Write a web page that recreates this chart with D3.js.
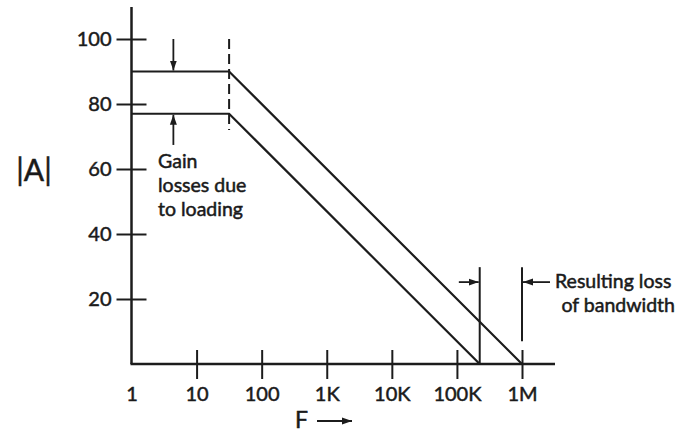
<!DOCTYPE html>
<html>
<head>
<meta charset="utf-8">
<script src="https://cdn.jsdelivr.net/npm/d3@7"></script>
<style>
  html, body { margin: 0; padding: 0; background: #fff; }
  svg text { font-family: "Lato", "DejaVu Sans", sans-serif; fill: #1a1a1a; stroke: #1a1a1a; stroke-width: 0.5px; }
</style>
</head>
<body>
<svg id="chart" width="678" height="434"></svg>
<script>
// ---- data ----
const xTickValues = [1, 10, 100, 1e3, 1e4, 1e5, 1e6];
const xTickLabels = ["1", "10", "100", "1K", "10K", "100K", "1M"];
const yTickValues = [20, 40, 60, 80, 100];
const upperFreq = [1, 31.6, 1e6];
const upperGain = [90, 90, 0];
const lowerFreq = [1, 31.6, 2.24e5];
const lowerGain = [77, 77, 0];
const cornerFreq = 31.6;
const lossFreqs = [2.24e5, 1e6];

const svg = d3.select("#chart");
const ink = "#1c1c1c";

const x = d3.scaleLog().domain([1, 1e6]).range([131.5, 522]);
const y = d3.scaleLinear().domain([0, 100]).range([364, 39]);

// marker
const defs = svg.append("defs");
defs.append("marker").attr("id", "ah")
  .attr("viewBox", "0 0 10 10").attr("refX", 10).attr("refY", 5)
  .attr("markerWidth", 10).attr("markerHeight", 10)
  .attr("markerUnits", "userSpaceOnUse").attr("orient", "auto")
  .append("path").attr("d", "M0,1.5 L10,5 L0,8.5 Z").attr("fill", ink);

// Y axis
const yAxis = svg.append("g").attr("transform", `translate(${x(1)},0)`)
  .call(d3.axisLeft(y).tickValues(yTickValues).tickSize(15).tickPadding(5));
yAxis.select(".domain").remove();
yAxis.selectAll(".tick line").attr("x1", -15).attr("x2", 15)
  .attr("stroke", ink).attr("stroke-width", 2);
yAxis.selectAll(".tick text").attr("font-size", 20).attr("fill", ink)
  .attr("font-family", "Lato, DejaVu Sans, sans-serif");
svg.append("line").attr("x1", x(1)).attr("x2", x(1))
  .attr("y1", 7).attr("y2", y(0)).attr("stroke", ink).attr("stroke-width", 2.5);

// X axis
const xAxis = svg.append("g").attr("transform", `translate(0,${y(0)})`)
  .call(d3.axisBottom(x).tickValues(xTickValues).tickSize(15).tickPadding(8)
    .tickFormat((d, i) => xTickLabels[i]));
xAxis.select(".domain").remove();
xAxis.selectAll(".tick line").attr("y1", d => d === 1 ? 0 : -14).attr("y2", d => d === 1 ? 0 : 15)
  .attr("stroke", ink).attr("stroke-width", 2);
xAxis.selectAll(".tick text").attr("font-size", 20).attr("fill", ink)
  .attr("font-family", "Lato, DejaVu Sans, sans-serif");
svg.append("line").attr("x1", x(1) - 1).attr("x2", 555)
  .attr("y1", y(0)).attr("y2", y(0)).attr("stroke", ink).attr("stroke-width", 2.5);

// gain curves
const line = d3.line().x(d => x(d[0])).y(d => y(d[1]));
const curves = [d3.zip(upperFreq, upperGain), d3.zip(lowerFreq, lowerGain)];
svg.selectAll("path.curve").data(curves).join("path").attr("class", "curve")
  .attr("d", line).attr("fill", "none").attr("stroke", ink).attr("stroke-width", 2.2);

// dashed corner marker
svg.append("line").attr("x1", x(cornerFreq)).attr("x2", x(cornerFreq))
  .attr("y1", y(100)).attr("y2", y(72))
  .attr("stroke", ink).attr("stroke-width", 2).attr("stroke-dasharray", "10,5");

// gain-loss arrows
svg.append("line").attr("x1", x(4.4)).attr("x2", x(4.4))
  .attr("y1", y(100)).attr("y2", y(90) - 1)
  .attr("stroke", ink).attr("stroke-width", 1.8).attr("marker-end", "url(#ah)");
svg.append("line").attr("x1", x(4.4)).attr("x2", x(4.4))
  .attr("y1", y(67.4)).attr("y2", y(77) + 1)
  .attr("stroke", ink).attr("stroke-width", 1.8).attr("marker-end", "url(#ah)");

// bandwidth markers
svg.append("line").attr("x1", x(lossFreqs[0])).attr("x2", x(lossFreqs[0]))
  .attr("y1", y(29.8)).attr("y2", y(0))
  .attr("stroke", ink).attr("stroke-width", 2);
svg.append("line").attr("x1", x(lossFreqs[1])).attr("x2", x(lossFreqs[1]))
  .attr("y1", y(29.8)).attr("y2", y(7))
  .attr("stroke", ink).attr("stroke-width", 2);
svg.append("line").attr("x1", x(1.07e5)).attr("x2", x(lossFreqs[0]) - 1)
  .attr("y1", y(25.2)).attr("y2", y(25.2))
  .attr("stroke", ink).attr("stroke-width", 1.8).attr("marker-end", "url(#ah)");
svg.append("line").attr("x1", x(Math.pow(10, 6.43))).attr("x2", x(lossFreqs[1]) + 1)
  .attr("y1", y(25.2)).attr("y2", y(25.2))
  .attr("stroke", ink).attr("stroke-width", 1.8).attr("marker-end", "url(#ah)");

// annotations
const ann = svg.append("g").attr("font-size", 19.5);
["Gain", "losses due", "to loading"].forEach((t, i) => {
  ann.append("text").attr("x", 158).attr("y", 168 + i * 24).text(t);
});
ann.append("text").attr("x", 555).attr("y", 288).text("Resulting loss");
ann.append("text").attr("x", 675).attr("y", 312).attr("text-anchor", "end").text("of bandwidth");

// axis titles
svg.append("text").attr("x", 34).attr("y", 181).attr("text-anchor", "middle")
  .attr("font-size", 30).text("|A|");
svg.append("text").attr("x", 295).attr("y", 428).attr("font-size", 23).text("F");
svg.append("line").attr("x1", 317).attr("x2", 352).attr("y1", 421).attr("y2", 421)
  .attr("stroke", ink).attr("stroke-width", 2).attr("marker-end", "url(#ah)");
</script>
</body>
</html>
